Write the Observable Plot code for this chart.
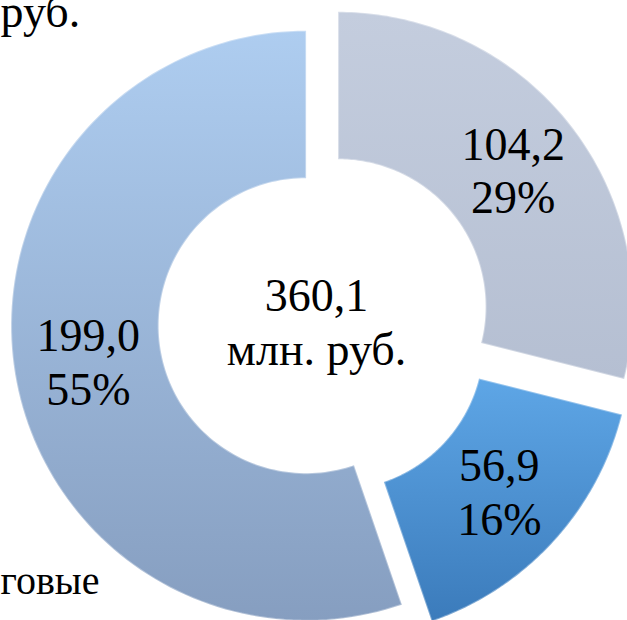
<!DOCTYPE html>
<html>
<head>
<meta charset="utf-8">
<script src="https://cdn.jsdelivr.net/npm/d3@7"></script>
<script src="https://cdn.jsdelivr.net/npm/@observablehq/plot@0.6"></script>
<style>
  html, body { margin: 0; padding: 0; background: #ffffff; }
</style>
</head>
<body>
<div id="chart"></div>
<script>
// ---- data ----
const categories = ["Сегмент 1", "Сегмент 2", "Сегмент 3"];
const values = [104.2, 56.9, 199.0];
const totalLabel = ["360,1", "млн. руб."];
const titleFragment = ["руб."];
const legendFragment = ["говые"];

// ---- styles / layout ----
const W = 627, H = 620;
const K = 295;            // outer radius in px
const CX = 316, CY = 324; // pie centre in px
const innerRatio = 0.5;
const explode = [0.095, 0.092, 0.034];
const gradients = [
  ["#c4cdde", "#b5bfd2"],
  ["#5ea6e6", "#3b7bbb"],
  ["#aecdf0", "#869ec0"]
];
const FONT = "Liberation Serif";

const fmt = v => v.toFixed(1).replace(".", ",");
const total = d3.sum(values);
const arcs = d3.pie().sort(null).value(d => d)(values);

const N = 120;
const ring = arcs.flatMap((p, i) => {
  const b = (p.startAngle + p.endAngle) / 2;
  const ox = explode[i] * Math.sin(b), oy = explode[i] * Math.cos(b);
  return d3.range(N + 1).map(j => {
    const a = p.startAngle + (p.endAngle - p.startAngle) * j / N;
    return {
      i,
      x1: ox + innerRatio * Math.sin(a), y1: oy + innerRatio * Math.cos(a),
      x2: ox + Math.sin(a), y2: oy + Math.cos(a)
    };
  });
});

const midR = (1 + innerRatio) / 2;
const labels = arcs.map((p, i) => {
  const b = (p.startAngle + p.endAngle) / 2;
  const r = midR + explode[i];
  return {
    i, x: r * Math.sin(b), y: r * Math.cos(b),
    text: fmt(values[i]) + "\n" + Math.round(values[i] / total * 100) + "%"
  };
});

const plot = Plot.plot({
  width: W, height: H, margin: 0,
  x: { domain: [-CX / K, (W - CX) / K], axis: null },
  y: { domain: [-(H - CY) / K, CY / K], axis: null },
  style: { fontFamily: FONT },
  marks: [
    ...categories.map((c, i) => Plot.area(ring.filter(d => d.i === i), {
      x1: "x1", y1: "y1", x2: "x2", y2: "y2",
      fill: gradients[i][0], curve: "linear"
    })),
    Plot.text(labels, {
      x: "x", y: "y", text: "text", fontSize: 46, lineHeight: 1.17,
      fill: "#000000", dy: -2, fontFamily: FONT
    }),
    Plot.text([totalLabel.join("\n")], {
      x: () => 0, y: () => 0, text: d => d, fontSize: 46, lineHeight: 1.17,
      fill: "#000000", dy: -4, fontFamily: FONT
    }),
    Plot.text(titleFragment, {
      frameAnchor: "top-left", text: d => d, textAnchor: "start", lineAnchor: "bottom",
      dx: 0, dy: 26, fontSize: 46, fill: "#000000", fontFamily: FONT
    }),
    Plot.text(legendFragment, {
      frameAnchor: "bottom-left", text: d => d, textAnchor: "start", lineAnchor: "bottom",
      dx: 0, dy: -27, fontSize: 40, fill: "#000000", fontFamily: FONT
    })
  ]
});

// vertical gradients only (no filter) on the rendered areas
const NS = "http://www.w3.org/2000/svg";
const defs = document.createElementNS(NS, "defs");
function el(parent, tag, attrs) {
  const e = document.createElementNS(NS, tag);
  for (const k in attrs) e.setAttribute(k, attrs[k]);
  parent.appendChild(e);
  return e;
}
gradients.forEach((g, i) => {
  const lg = el(defs, "linearGradient", { id: "g" + i, x1: 0, y1: 0, x2: 0, y2: 1 });
  el(lg, "stop", { offset: 0, "stop-color": g[0] });
  el(lg, "stop", { offset: 1, "stop-color": g[1] });
});
plot.insertBefore(defs, plot.firstChild);
plot.querySelectorAll('g[aria-label="area"] path').forEach((p, i) => {
  p.setAttribute("fill", "url(#g" + i + ")");
  p.setAttribute("stroke", "#ffffff");
  p.setAttribute("stroke-opacity", "0.35");
  p.setAttribute("stroke-width", "2");
});
document.getElementById("chart").appendChild(plot);
</script>
</body>
</html>
